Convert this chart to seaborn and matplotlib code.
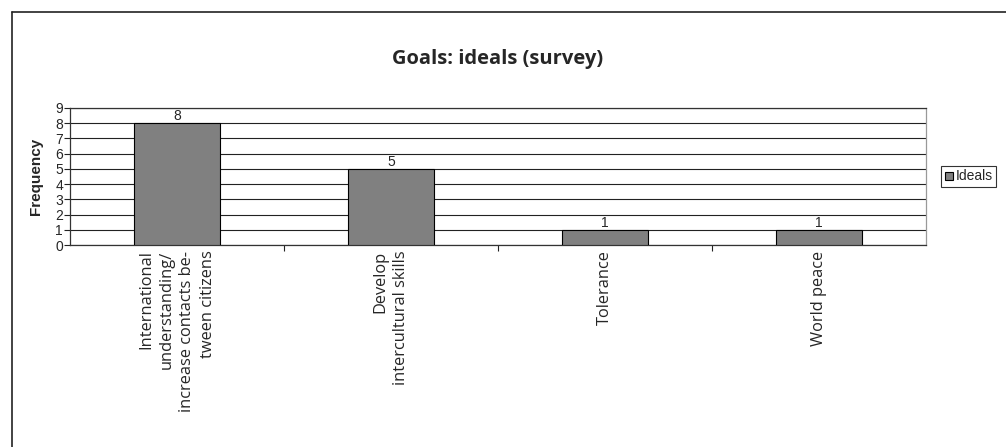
import pandas as pd
import matplotlib.pyplot as plt
import matplotlib.lines as mlines
import seaborn as sns

categories = ['International\nunderstanding/\nincrease contacts be-\ntween citizens',
              'Develop\nintercultural skills',
              'Tolerance',
              'World peace']
values = [8, 5, 1, 1]
series_name = 'Ideals'

df = pd.DataFrame({'Goal': categories, 'Frequency': values})

sns.set_style('white')
plt.rcParams['font.family'] = ['Liberation Sans', 'DejaVu Sans']

fig = plt.figure(figsize=(10.06, 4.47), dpi=100)
ax = fig.add_axes([0.0696, 0.4519, 0.8509, 0.3065])

sns.barplot(data=df, x='Goal', y='Frequency', color='#808080', width=0.4,
            edgecolor='black', linewidth=0.8, saturation=1, ax=ax, zorder=3)

ax.set_ylim(0, 9)
ax.set_xlim(-0.5, len(categories) - 0.5)
ax.set_yticks(range(0, 10))
ax.yaxis.grid(True, color='#222222', linewidth=0.8, zorder=0)
ax.tick_params(axis='y', labelsize=10, length=4, width=0.8, color='#222222', pad=1, left=True)
ax.set_ylabel('Frequency', fontsize=11, fontweight='bold', labelpad=9)
ax.set_xlabel('')

# category ticks sit between the bars
ax.set_xticks([i + 0.5 for i in range(len(categories) - 1)], minor=True)
ax.tick_params(axis='x', which='minor', length=4, width=0.8, color='#222222', bottom=True)
ax.tick_params(axis='x', which='major', length=0, pad=4)
ax.set_xticklabels(categories, rotation=90, ha='center', va='top', multialignment='right',
                   family='Open Sans', fontsize=11.8, linespacing=1.38)

for s in ['left', 'bottom', 'top']:
    ax.spines[s].set_color('#333333')
    ax.spines[s].set_linewidth(0.9)
ax.spines['right'].set_color('#999999')
ax.spines['right'].set_linewidth(0.9)

for c in ax.containers:
    ax.bar_label(c, fontsize=10, padding=0)

ax.set_title('Goals: ideals (survey)', family='Open Sans', fontweight='bold',
             fontsize=14.5, pad=32)

handle = mlines.Line2D([], [], marker='s', linestyle='none', markersize=6,
                       markerfacecolor='#808080', markeredgecolor='black', markeredgewidth=0.8)
leg = ax.legend([handle], [series_name], loc='center left', bbox_to_anchor=(1.018, 0.5),
                fontsize=10, frameon=True, fancybox=False, handlelength=0.6,
                handletextpad=0.15, borderpad=0.25, borderaxespad=0)
leg.get_frame().set_edgecolor('black')
leg.get_frame().set_linewidth(0.8)

# outer frame (top and left edges visible)
fig.add_artist(mlines.Line2D([0.0119, 0.0119], [0, 1 - 12 / 447], color='#222222', linewidth=1.2))
fig.add_artist(mlines.Line2D([0.0119, 1], [1 - 12 / 447, 1 - 12 / 447], color='#222222', linewidth=1.2))

fig.savefig('out.png', dpi=100)
